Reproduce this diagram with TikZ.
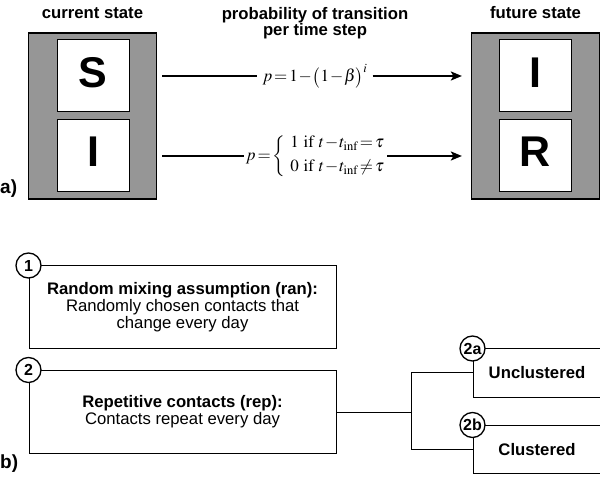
\documentclass[tikz,border=0pt]{standalone}
\usepackage{mathptmx}
\usepackage[no-math]{fontspec}
\setmainfont{Liberation Sans}
\usetikzlibrary{arrows.meta}
\definecolor{boxgray}{RGB}{150,150,150}
\newcommand\tightmath{\thickmuskip=2mu\relax\medmuskip=1mu\relax}
\tikzset{
	statebg/.style={draw,fill=boxgray,line width=1.2pt,minimum width=128pt,minimum height=166pt,inner sep=0pt},
	state/.style={draw,fill=white,line width=1pt,minimum size=72pt,inner sep=0pt,text height=31pt,text depth=8pt,font=\fontsize{43}{43}\selectfont\bfseries},
	head/.style={font=\fontsize{16.7}{16}\selectfont\bfseries,align=center,inner sep=0pt},
	formula/.style={font=\fontsize{17}{20}\selectfont,inner sep=5pt},
	link/.style={line width=2.2pt},
	flow/.style={link,-{Stealth[length=11pt,width=9pt,inset=2.5pt]}},
	desc/.style={draw,line width=1pt,minimum width=307pt,minimum height=83pt,align=center,font=\fontsize{16.7}{17}\selectfont},
	sub/.style={draw,line width=1pt,minimum width=128pt,minimum height=48pt,font=\fontsize{16.7}{17}\selectfont\bfseries},
	num/.style={draw,circle,fill=white,line width=1.3pt,minimum size=25pt,inner sep=0pt,font=\fontsize{16}{16}\selectfont\bfseries},
	wire/.style={line width=1pt},
	lab/.style={font=\fontsize{19}{19}\selectfont\bfseries,inner sep=0pt}
}
\begin{document}
\begin{tikzpicture}[x=1pt,y=-1pt]
	\useasboundingbox (0,0) rectangle (600,478);
	%---------a) current state
	\node[statebg] (cur) at (92.5,116) {};
	\node[state] (S) at (93,76) {S};
	\node[state] (I) at (93,155.5) {I};
	\node[head,anchor=base] (hcur) at (92.5,19) {current state};
	%---------future state
	\node[statebg] (fut) at (535.5,116) {};
	\node[state] (Inew) at (535.5,76) {I};
	\node[state] (R) at (535.5,155.5) {R};
	\node[head,anchor=base] (hfut) at (535.5,19) {future state};
	%---------transition
	\node[head] (hprob) at (315,22.7) {probability of transition\\per time step};
	\node[formula] (f1) at (315,76) {\tightmath$p=1-\bigl(1-\beta\bigr)^{i}$};
	\node[formula,inner sep=2pt] (f2) at (318,156)
		{\tightmath$p=\left\{\begin{array}{l}1\ \mathrm{if}\ t-t_{\mathrm{inf}}=\tau\\[4pt]0\ \mathrm{if}\ t-t_{\mathrm{inf}}\neq\tau\end{array}\right.$};
	\draw[link,shorten <=5pt] (cur.east |- f1) -- (f1);
	\draw[flow,shorten >=9pt] (f1) -- (f1 -| fut.west);
	\draw[link,shorten <=5pt] (cur.east |- f2) -- (f2);
	\draw[flow,shorten >=9pt] ([xshift=-5pt]f2.east) -- (f2.east -| fut.west);
	\node[lab,anchor=base west] (la) at (0,194) {a)};
	%---------b) contact assumptions
	\node[desc] (ran) at (182.5,307.5) {\textbf{Random mixing assumption (ran):}\\Randomly chosen contacts that\\change every day};
	\node[desc] (rep) at (182.5,412) {\textbf{Repetitive contacts (rep):}\\Contacts repeat every day};
	\node[sub] (unc) at (537,373) {Unclustered};
	\node[sub] (clu) at (537,449.5) {Clustered};
	\coordinate (fork) at ([xshift=75pt]rep.east);
	\draw[wire] (rep) -- (fork);
	\draw[wire] (unc) -| (fork) |- (clu);
	%---------numbers
	\node[num] (n1) at (ran.north west) {1};
	\node[num] (n2) at (rep.north west) {2};
	\node[num] (n2a) at (unc.north west) {2a};
	\node[num] (n2b) at (clu.north west) {2b};
	\node[lab,anchor=base west] (lb) at (0,468) {b)};
\end{tikzpicture}
\end{document}
